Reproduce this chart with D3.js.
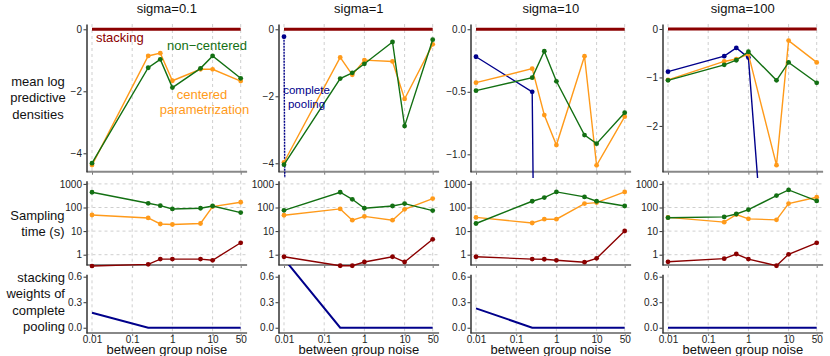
<!DOCTYPE html>
<html>
<head>
<meta charset="utf-8">
<script src="https://cdn.jsdelivr.net/npm/d3@7"></script>
<style>
  body { margin: 0; background: #fff; }
  svg { font-family: "Liberation Sans", Arial, sans-serif; }
  .tick text { font-size: 10px; fill: #222; }
</style>
</head>
<body>
<div id="chart"></div>
<script>
// data
const noise = [0.01, 0.25, 0.5, 1, 5, 10, 50]
const sigmas = ["sigma=0.1", "sigma=1", "sigma=10", "sigma=100"]
const xTicks = [0.01, 0.1, 1, 10, 50]
const xTickLabels = ["0.01", "0.1", "1", "10", "50"]

// mean log predictive densities
const lpdStacking = [
  [0, 0, 0, 0, 0, 0, 0],
  [0, 0, 0, 0, 0, 0, 0],
  [0, 0, 0, 0, 0, 0, 0],
  [0, 0, 0, 0, 0, 0, 0]
]
const lpdCentered = [
  [-4.38, -0.86, -0.77, -1.66, -1.29, -1.29, -1.67],
  [-3.97, -0.84, -1.36, -0.92, -0.96, -2.08, -0.45],
  [-0.427, -0.315, -0.686, -0.926, -0.216, -1.088, -0.699],
  [-1.05, -0.67, -0.62, -0.52, -2.81, -0.24, -0.69]
]
const lpdNoncentered = [
  [-4.32, -1.24, -0.97, -1.88, -1.26, -0.86, -1.58],
  [-4.04, -1.47, -1.30, -1.03, -0.38, -2.89, -0.31],
  [-0.491, -0.387, -0.176, -0.416, -0.846, -0.915, -0.667],
  [-1.06, -0.74, -0.645, -0.47, -1.06, -0.69, -1.11]
]
// complete pooling: far below the plotted range where not shown
const lpdPooling = [
  [null, null, null, null, null, null, null],
  [-0.22, -300, null, null, null, null, null],
  [-0.22, -0.50, -10, null, null, null, null],
  [-0.88, -0.56, -0.39, -0.59, -8.2, null, null]
]
const lpdTicks = [[0, -2, -4], [0, -2, -4], [0, -0.5, -1], [0, -1, -2]]
const lpdTickFormat = ["d", "d", ".1f", "d"]

// sampling time (s)
const timeCentered = [
  [48, 36, 20, 19, 21, 109, 167],
  [47, 87, 29, 42, 29, 84, 238],
  [38, 22, 32, 32, 146, 161, 457],
  [38, 24, 50, 33, 30, 146, 272]
]
const timeNoncentered = [
  [443, 151, 120, 87, 93, 116, 61],
  [76, 443, 223, 93, 116, 146, 74],
  [21, 184, 263, 457, 281, 184, 116],
  [37, 40, 53, 81, 320, 556, 190]
]
const timeStacking = [
  [0.33, 0.39, 0.65, 0.65, 0.65, 0.58, 3.2],
  [0.82, 0.34, 0.34, 0.49, 0.82, 0.49, 4.5],
  [0.82, 0.65, 0.64, 0.58, 0.48, 0.70, 10.1],
  [0.50, 0.68, 1.07, 0.65, 0.34, 1.04, 3.2]
]
const timeTicks = [1, 10, 100, 1000]

// stacking weights of complete pooling
const weightPooling = [
  [0.176, 0, 0, 0, 0, 0, 0],
  [0.81, 0, 0, 0, 0, 0, 0],
  [0.228, 0, 0, 0, 0, 0, 0],
  [0, 0, 0, 0, 0, 0, 0]
]
const weightTicks = [0, 0.3, 0.6]

// colours
const colStack = "#8b0000"
const colCentered = "#ff9a1a"
const colNoncentered = "#137013"
const colPooling = "#00008b"

// 1. dimensions
const dimensions = {
  width: 830,
  height: 356,
  panelLeft: 86.5,
  panelStep: 192,
  padLeft: 5.5,
  decades: 148.7,
  plotWidth: 160.6,
}
const rows = {
  top: { y0: 24, y1: 171.7, clip: [-10, 178] },
  mid: { y0: 180.7, y1: 265, clip: [175, 268.5] },
  bot: { y0: 274.3, y1: 333, clip: [265, 356] },
}
const topDomains = [[-4.594, 0.171], [-4.251, 0.158], [-1.139, 0.042], [-2.945, 0.103]]

// 2. canvas
const wrapper = d3.select("#chart")
  .append("svg")
    .attr("width", dimensions.width)
    .attr("height", dimensions.height)

const defs = wrapper.append("defs")

// 3. helpers
function drawRowFrame(g, left, row, yScale, ticks, fmt, x, hGrid) {
  const right = left + dimensions.plotWidth
  // grid
  g.append("g").selectAll("line")
    .data(xTicks)
    .join("line")
      .attr("x1", d => x(d)).attr("x2", d => x(d))
      .attr("y1", row.y0).attr("y2", row.y1)
      .attr("stroke", "#cfcfcf").attr("stroke-dasharray", "3,3")
  if (hGrid) {
    g.append("g").selectAll("line")
      .data(ticks)
      .join("line")
        .attr("x1", left).attr("x2", right)
        .attr("y1", d => yScale(d)).attr("y2", d => yScale(d))
        .attr("stroke", "#cfcfcf").attr("stroke-dasharray", "3,3")
  }
  // bottom axis
  const xAxis = g.append("g")
    .attr("transform", `translate(0,${row.y1})`)
    .call(d3.axisBottom(x).tickValues(xTicks).tickSize(3).tickSizeOuter(0).tickFormat(""))
  xAxis.select(".domain").remove()
  xAxis.selectAll(".tick line").attr("stroke", "#777").attr("stroke-width", 1)
  g.append("line")
    .attr("x1", left).attr("x2", right)
    .attr("y1", row.y1).attr("y2", row.y1)
    .attr("stroke", "#888").attr("stroke-width", 2)
  // left axis
  const yAxis = g.append("g")
    .attr("transform", `translate(${left},0)`)
    .call(d3.axisLeft(yScale).tickValues(ticks).tickSize(3).tickSizeOuter(0).tickFormat(fmt))
  yAxis.select(".domain").attr("stroke", "#333").attr("stroke-width", 1.5)
  yAxis.selectAll(".tick line").attr("stroke", "#333")
  yAxis.selectAll(".tick text").attr("x", -4.5)
  return xAxis
}

function drawSeries(g, values, x, y, color, opts = {}) {
  const pts = noise.map((n, i) => ({ n, v: values[i] })).filter(p => p.v != null)
  const line = d3.line()
    .x(p => x(p.n))
    .y(p => y(p.v))
  g.append("path")
    .attr("d", line(pts))
    .attr("fill", "none")
    .attr("stroke", color)
    .attr("stroke-width", opts.width || 1.4)
    .attr("stroke-dasharray", opts.dash || null)
  if (opts.points !== false) {
    g.selectAll(null)
      .data(pts.filter(p => y(p.v) > -50 && y(p.v) < 400))
      .join("circle")
        .attr("cx", p => x(p.n))
        .attr("cy", p => y(p.v))
        .attr("r", 2.4)
        .attr("fill", color)
  }
}

// 4. panels
sigmas.forEach((title, i) => {
  const left = dimensions.panelLeft + i * dimensions.panelStep
  const right = left + dimensions.plotWidth
  const x = d3.scaleLog()
    .domain([0.01, 50])
    .range([left + dimensions.padLeft, left + dimensions.padLeft + dimensions.decades])

  const panel = wrapper.append("g")

  // clip paths per row
  Object.entries(rows).forEach(([k, row]) => {
    defs.append("clipPath").attr("id", `clip-${k}-${i}`)
      .append("rect")
        .attr("x", left - 1).attr("width", dimensions.plotWidth + 6)
        .attr("y", row.clip[0]).attr("height", row.clip[1] - row.clip[0])
  })

  // title
  panel.append("text")
    .attr("x", (left + right) / 2)
    .attr("y", 13)
    .attr("text-anchor", "middle")
    .style("font-size", "13px")
    .attr("fill", "#111")
    .text(title)

  // top row: log predictive densities
  const yTop = d3.scaleLinear().domain(topDomains[i]).range([rows.top.y1, rows.top.y0])
  drawRowFrame(panel, left, rows.top, yTop, lpdTicks[i],
    d => d3.format(lpdTickFormat[i])(d), x, false)
  const gTop = panel.append("g").attr("clip-path", `url(#clip-top-${i})`)
  drawSeries(gTop, lpdStacking[i], x, yTop, colStack, { width: 3, points: false })
  drawSeries(gTop, lpdPooling[i], x, yTop, colPooling, { dash: i === 1 ? "2,1" : null })
  drawSeries(gTop, lpdCentered[i], x, yTop, colCentered)
  drawSeries(gTop, lpdNoncentered[i], x, yTop, colNoncentered)

  // middle row: sampling time
  const yMid = d3.scaleLog().domain([0.366, 1367]).range([rows.mid.y1, rows.mid.y0])
  drawRowFrame(panel, left, rows.mid, yMid, timeTicks, d => String(d), x, true)
  const gMid = panel.append("g").attr("clip-path", `url(#clip-mid-${i})`)
  drawSeries(gMid, timeCentered[i], x, yMid, colCentered)
  drawSeries(gMid, timeNoncentered[i], x, yMid, colNoncentered)
  drawSeries(gMid, timeStacking[i], x, yMid, colStack)

  // bottom row: stacking weights
  const yBot = d3.scaleLinear().domain([-0.062, 0.628]).range([rows.bot.y1, rows.bot.y0])
  const xAxis = drawRowFrame(panel, left, rows.bot, yBot, weightTicks, d3.format(".1f"), x, false)
  xAxis.selectAll(".tick text")
    .text((d, j) => xTickLabels[j])
    .attr("y", 2.5)
    .attr("dy", "0.71em")
  const gBot = panel.append("g").attr("clip-path", `url(#clip-bot-${i})`)
  drawSeries(gBot, weightPooling[i], x, yBot, colPooling, { width: 2, points: false })

  panel.append("text")
    .attr("x", (left + right) / 2)
    .attr("y", 354)
    .attr("text-anchor", "middle")
    .style("font-size", "13px")
    .attr("fill", "#111")
    .text("between group noise")

  // in-panel labels
  if (i === 0) {
    const lab = (t, tx, ty, c, anchor) => panel.append("text")
      .attr("x", tx).attr("y", ty)
      .attr("text-anchor", anchor)
      .style("font-size", "13px")
      .attr("fill", c)
      .text(t)
    lab("stacking", x(0.01) + 4, 42, colStack, "start")
    lab("non\u2212centered", 207, 50, colNoncentered, "middle")
    lab("centered", 202, 98.5, colCentered, "middle")
    lab("parametrization", 204.5, 113.5, colCentered, "middle")
  }
  if (i === 1) {
    panel.append("text")
      .attr("x", 306.5).attr("y", 93.5)
      .attr("text-anchor", "middle")
      .style("font-size", "11.5px")
      .attr("fill", colPooling)
      .selectAll("tspan")
      .data(["complete", "pooling"])
      .join("tspan")
        .attr("x", 306.5)
        .attr("dy", (d, j) => j ? 14 : 0)
        .text(d => d)
  }
})

// 5. row titles
function rowTitle(lines, tx, ty, anchor) {
  wrapper.append("text")
    .attr("text-anchor", anchor)
    .style("font-size", "13px")
    .attr("fill", "#111")
    .selectAll("tspan")
    .data(lines)
    .join("tspan")
      .attr("x", tx)
      .attr("y", (d, j) => ty + j * 16.3)
      .text(d => d)
}
rowTitle(["mean log", "predictive", "densities"], 38, 86, "middle")
rowTitle(["Sampling", "time (s)"], 64.5, 219.5, "end")
rowTitle(["stacking", "weights of", "complete", "pooling"], 65, 282, "end")
</script>
</body>
</html>
